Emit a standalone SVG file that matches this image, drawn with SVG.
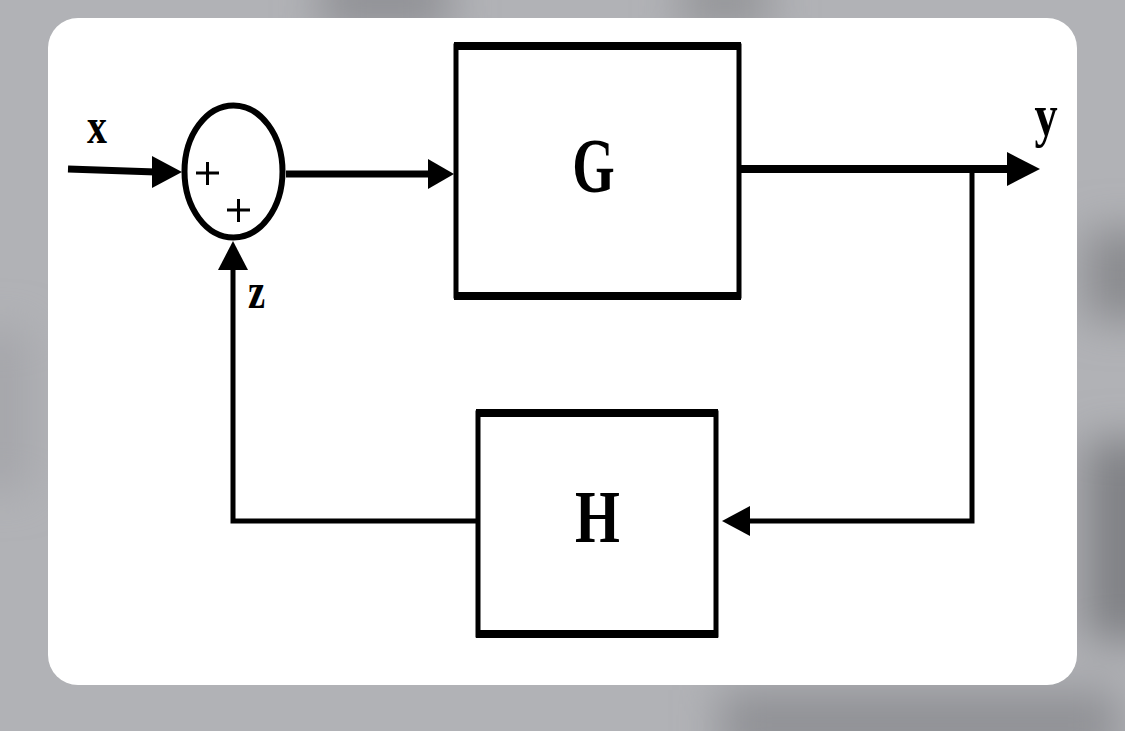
<svg xmlns="http://www.w3.org/2000/svg" width="1125" height="731" viewBox="0 0 1125 731">
<defs>
<filter id="blur" x="-50%" y="-50%" width="200%" height="200%"><feGaussianBlur stdDeviation="22"/></filter>
<style>
.ln{stroke:#000;fill:none;stroke-linecap:butt;stroke-linejoin:miter}
.box{fill:#fff;stroke:#000;stroke-width:5}
.edge{stroke:#000;stroke-width:8;fill:none}
.lbl{font-family:"Liberation Serif","Times New Roman",serif;font-weight:bold;fill:#000;text-anchor:middle}
.ah{fill:#000}
</style>
</defs>
<rect x="0" y="0" width="1125" height="731" fill="#b1b2b6"/>
<g filter="url(#blur)">
<rect x="320" y="-30" width="130" height="60" fill="#8f9094"/>
<rect x="680" y="-30" width="90" height="60" fill="#949599"/>
<rect x="1085" y="230" width="80" height="90" fill="#8a8b8f"/>
<rect x="1085" y="440" width="80" height="200" fill="#808185"/>
<rect x="720" y="690" width="400" height="70" fill="#909195"/>
<rect x="-30" y="330" width="60" height="160" fill="#a5a6aa"/>
</g>
<rect x="48" y="18" width="1029" height="667" rx="30" fill="#fff"/>

<g id="sum">
<ellipse cx="233.5" cy="171.5" rx="49" ry="66" fill="#fff" stroke="#000" stroke-width="6"/>
<path class="ln" stroke-width="3" d="M196 173H219M207.5 162V185M227 210H250M238.5 199V222"/>
</g>
<g id="G">
<rect class="box" x="456" y="46" width="283" height="250"/>
<path class="edge" d="M454 46H741M454 296H741"/>
<text class="lbl" font-size="78" transform="translate(593.5,192) scale(0.7,1)">G</text>
</g>
<g id="H">
<rect class="box" x="478" y="413" width="238" height="222"/>
<path class="edge" d="M476 413H718M476 634H718"/>
<text class="lbl" font-size="74" transform="translate(597.5,542) scale(0.78,1)">H</text>
</g>
<g id="labels">
<text class="lbl" font-size="50" transform="translate(97,143) scale(0.8,1)">x</text>
<text class="lbl" font-size="60" transform="translate(1046,135) scale(0.77,1)">y</text>
<text class="lbl" font-size="50" transform="translate(256.5,308) scale(0.77,1)">z</text>
</g>
<g id="connectors">
<path class="ln" stroke-width="7" d="M68 169L156 172"/>
<polygon class="ah" points="152,156 182,172 152,188"/>
<path class="ln" stroke-width="7" d="M286 174H432"/>
<polygon class="ah" points="428,159 454,174 428,189"/>
<path class="ln" stroke-width="8" d="M741 169H1012"/>
<polygon class="ah" points="1007,152 1040,169 1007,186"/>
<path class="ln" stroke-width="5" d="M972 169V521H746"/>
<polygon class="ah" points="750,506 722,521 750,536"/>
<path class="ln" stroke-width="5" d="M476 521H233V264"/>
<polygon class="ah" points="218,270 233,241 248,270"/>
</g>
</svg>
